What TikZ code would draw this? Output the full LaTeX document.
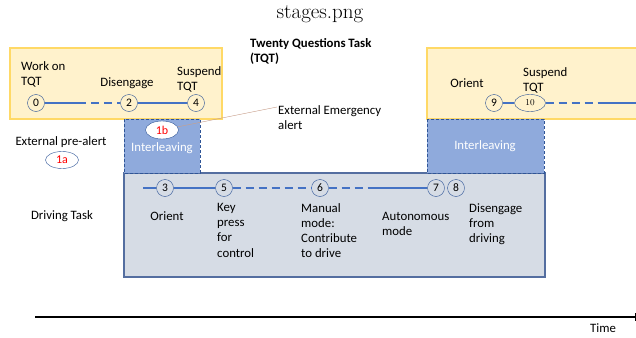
\documentclass[tikz,border=0pt]{standalone}
\usepackage{fontspec}
\setsansfont{Carlito}
\usepackage{tikz}
\usetikzlibrary{positioning,shapes,arrows}
\usepackage{xcolor}
\definecolor{tqtfill}{RGB}{255,242,204}
\definecolor{tqtdraw}{RGB}{255,217,102}
\definecolor{ilfill}{RGB}{143,170,220}
\definecolor{ildraw}{RGB}{47,85,151}
\definecolor{drvfill}{RGB}{214,220,229}
\definecolor{drvdraw}{RGB}{84,110,160}
\definecolor{stageblue}{RGB}{68,114,196}
\definecolor{leader}{RGB}{200,160,140}
\newcommand{\lbl}{\sffamily\fontsize{12.8}{15.2}\selectfont}

\begin{document}
\begin{tikzpicture}[x=1pt,y=-1pt,
    stage/.style={circle,draw=ildraw,thin,inner sep=0pt,minimum size=17pt,font=\sffamily\fontsize{11.5}{11.5}\selectfont},
    alertel/.style={ellipse,draw=ildraw,fill=white,inner sep=0pt,minimum width=33pt,minimum height=18pt,text=red,font=\sffamily\fontsize{12}{12}\selectfont},
    lab/.style={align=left,inner sep=0pt,font=\lbl},
    solidlink/.style={stageblue,line width=1.3pt},
    dashlink/.style={stageblue,line width=1.3pt,dash pattern=on 8pt off 5pt}]
    \useasboundingbox (0,0) rectangle (636,337);

    % boxes
    \filldraw[fill=tqtfill,draw=tqtdraw,line width=1.3pt] (10,48) rectangle (222,119);
    \filldraw[fill=tqtfill,draw=tqtdraw,line width=1.3pt] (427,48) rectangle (640,119);
    \filldraw[fill=drvfill,draw=drvdraw,line width=1.3pt] (124,173) rectangle (545,277);
    \filldraw[fill=ilfill,draw=ildraw,densely dashed,thin] (124,119) rectangle (200,173);
    \filldraw[fill=ilfill,draw=ildraw,densely dashed,thin] (427,119) rectangle (544,173);

    % titles
    \node (title) at (320,14) {\fontsize{21}{24}\selectfont stages.png};
    \node[lab,anchor=north west,font=\lbl\bfseries] (tqt) at (250,38) {Twenty Questions Task\\(TQT)};

    % TQT, first part
    \node[stage] (s0) at (36,103) {0};
    \node[stage] (s2) at (129,103) {2};
    \node[stage] (s4) at (196,103) {4};
    \coordinate (c02) at (78,103);
    \draw[solidlink] (s0) -- (c02);
    \draw[dashlink] (c02) -- (s2);
    \draw[solidlink] (s2) -- (s4);
    \node[lab,anchor=north west] (work) at (21,61) {Work on\\TQT};
    \node[lab] (diseng) at (127,83) {Disengage};
    \node[lab,anchor=north west] (susp) at (177,66) {Suspend\\TQT};

    % alerts
    \node[alertel] (b1) at (162,130) {1b};
    \node[lab,text=white] (il1) at (162,148) {Interleaving};
    \coordinate (alertend) at (277,107);
    \draw[leader,thin] (b1) -- (alertend);
    \node[lab,anchor=north west] (alert) at (278,105) {External Emergency\\alert};
    \node[lab] (prealert) at (61,142) {External pre-alert};
    \node[alertel,minimum height=17pt] (a1) at (62,160) {1a};

    % TQT, second part
    \node[stage] (s9) at (494,103) {9};
    \node[stage,ellipse,minimum width=31pt,minimum height=17pt,font=\fontsize{9}{9}\selectfont] (s10) at (530,103) {10};
    \coordinate (c10) at (600,103);
    \coordinate (cend) at (640,103);
    \draw[solidlink] (s9) -- (s10);
    \draw[dashlink] (s10) -- (c10);
    \draw[solidlink] (c10) -- (cend);
    \node[lab] (orient2) at (467,83) {Orient};
    \node[lab,anchor=north west] (susp2) at (523,67) {Suspend\\TQT};
    \node[lab,text=white] (il2) at (485,146) {Interleaving};

    % driving task
    \node[lab] (drv) at (62,216) {Driving Task};
    \coordinate (dstart) at (143,188);
    \node[stage] (s3) at (165,188) {3};
    \node[stage] (s5) at (224,188) {5};
    \node[stage] (s6) at (320,188) {6};
    \coordinate (c67) at (375,188);
    \node[stage] (s7) at (436,188) {7};
    \node[stage] (s8) at (456,188) {8};
    \draw[solidlink] (dstart) -- (s3) -- (s5);
    \draw[dashlink] (s5) -- (s6);
    \draw[dashlink] (s6) -- (c67);
    \draw[solidlink] (c67) -- (s7);
    \node[lab] (orient) at (167,216) {Orient};
    \node[lab,anchor=north west] (key) at (217,203) {Key\\press\\for\\control};
    \node[lab,anchor=north west] (manual) at (301,203) {Manual\\mode:\\Contribute\\to drive};
    \node[lab,anchor=north west] (auto) at (382,212) {Autonomous\\mode};
    \node[lab,anchor=north west] (disdrv) at (469,203) {Disengage\\from\\driving};

    % time axis
    \coordinate (t0) at (35,317);
    \coordinate (t1) at (636,317);
    \draw[line width=1.2pt,-|] (t0) -- (t1);
    \node[lab] (time) at (603,328) {Time};
\end{tikzpicture}
\end{document}
